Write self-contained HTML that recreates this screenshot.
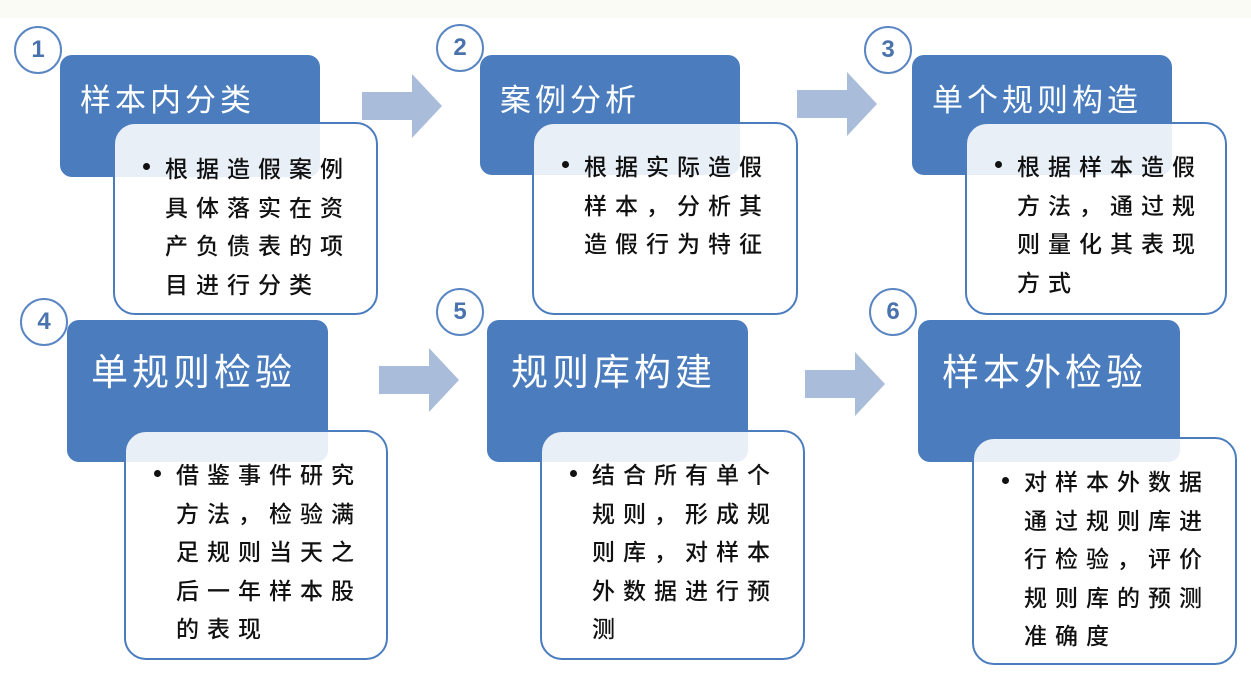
<!DOCTYPE html>
<html><head><meta charset="utf-8"><style>
body{margin:0;width:1251px;height:675px;background:#fff;position:relative;overflow:hidden;font-family:"Liberation Sans","Noto Sans CJK SC",sans-serif}
.b{position:absolute;background:#4a7cbe;border-radius:12px;color:#fff}
.b span{position:absolute;left:20px;letter-spacing:4px;white-space:nowrap}
.w{position:absolute;background:rgba(255,255,255,0.88);border:2.5px solid #4a7cbe;border-radius:22px;box-sizing:border-box;font-family:"Noto Sans CJK SC",sans-serif;font-size:23px;line-height:38.5px;color:#111;letter-spacing:8px;font-weight:500}
.w .t{position:absolute;left:50px;white-space:nowrap}
.w .d{position:absolute;left:28px;width:7px;height:7px;border-radius:50%;background:#111}
.c{position:absolute;width:48px;height:48px;border:2.5px solid #5a86c2;border-radius:50%;background:#fff;box-sizing:border-box;text-align:center;line-height:43px;font-weight:bold;font-size:24px;color:#4a73ad}
.a{position:absolute;width:80px;height:64px}
</style></head><body>
<div style="position:absolute;left:0;top:0;width:1251px;height:18px;background:#fbfbf6"></div>

<div class="b" style="left:60px;top:55px;width:260px;height:122px"><span style="top:20px;font-size:31px">样本内分类</span></div>
<div class="w" style="left:113px;top:122px;width:265px;height:193px"><span class="d" style="top:39px"></span><div class="t" style="top:24px">根据造假案例<br>具体落实在资<br>产负债表的项<br>目进行分类</div></div>
<div class="c" style="left:14px;top:26px">1</div>

<div class="b" style="left:480px;top:55px;width:260px;height:120px"><span style="top:20px;font-size:31px">案例分析</span></div>
<div class="w" style="left:532px;top:122px;width:266px;height:193px"><span class="d" style="top:37px"></span><div class="t" style="top:22px">根据实际造假<br>样本，分析其<br>造假行为特征</div></div>
<div class="c" style="left:436px;top:24px">2</div>

<div class="b" style="left:912px;top:55px;width:260px;height:120px"><span style="top:20px;font-size:31px">单个规则构造</span></div>
<div class="w" style="left:965px;top:122px;width:262px;height:193px"><span class="d" style="top:37px"></span><div class="t" style="top:22px">根据样本造假<br>方法，通过规<br>则量化其表现<br>方式</div></div>
<div class="c" style="left:864px;top:26px">3</div>

<div class="b" style="left:67px;top:320px;width:261px;height:142px"><span style="top:22px;font-size:37px;left:24px">单规则检验</span></div>
<div class="w" style="left:124px;top:430px;width:264px;height:230px"><span class="d" style="top:38px"></span><div class="t" style="top:22px">借鉴事件研究<br>方法，检验满<br>足规则当天之<br>后一年样本股<br>的表现</div></div>
<div class="c" style="left:20px;top:298px">4</div>

<div class="b" style="left:487px;top:320px;width:261px;height:142px"><span style="top:22px;font-size:37px;left:24px">规则库构建</span></div>
<div class="w" style="left:540px;top:430px;width:265px;height:230px"><span class="d" style="top:38px"></span><div class="t" style="top:22px">结合所有单个<br>规则，形成规<br>则库，对样本<br>外数据进行预<br>测</div></div>
<div class="c" style="left:436px;top:288px">5</div>

<div class="b" style="left:918px;top:320px;width:262px;height:142px"><span style="top:22px;font-size:37px;left:24px">样本外检验</span></div>
<div class="w" style="left:972px;top:437px;width:265px;height:228px"><span class="d" style="top:38px"></span><div class="t" style="top:22px">对样本外数据<br>通过规则库进<br>行检验，评价<br>规则库的预测<br>准确度</div></div>
<div class="c" style="left:869px;top:288px">6</div>

<svg class="a" style="left:362px;top:74px" viewBox="0 0 80 64"><polygon points="0,18 50,18 50,0 80,32 50,64 50,46 0,46" fill="#a9bcd9"/></svg>
<svg class="a" style="left:797px;top:72px" viewBox="0 0 80 64"><polygon points="0,18 50,18 50,0 80,32 50,64 50,46 0,46" fill="#a9bcd9"/></svg>
<svg class="a" style="left:379px;top:348px" viewBox="0 0 80 64"><polygon points="0,18 50,18 50,0 80,32 50,64 50,46 0,46" fill="#a9bcd9"/></svg>
<svg class="a" style="left:805px;top:352px" viewBox="0 0 80 64"><polygon points="0,18 50,18 50,0 80,32 50,64 50,46 0,46" fill="#a9bcd9"/></svg>
</body></html>
